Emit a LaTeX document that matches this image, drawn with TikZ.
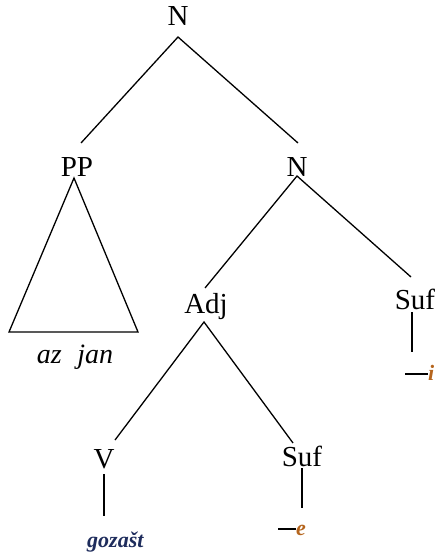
\documentclass[tikz,border=0pt]{standalone}
\usepackage{fontspec}
\setmainfont{Liberation Serif}
\begin{document}
\begin{tikzpicture}[x=1pt,y=-1pt,
  lab/.style={font=\fontsize{29}{32}\selectfont, inner sep=0pt, anchor=base},
  edge/.style={line width=1.3pt},
  morph/.style={font=\fontsize{22}{24}\selectfont\bfseries\itshape, text=gozcol, inner sep=0pt, anchor=base west},
]
\definecolor{gozcol}{HTML}{1E2C5C}
\definecolor{suffcol}{HTML}{B5651D}
\useasboundingbox (0,0) rectangle (434,556);
\clip (0,0) rectangle (434,556);
% nodes
\node[lab] (n1) at (178,26) {N};
\node[lab] (pp) at (77,176) {PP};
\node[lab] (n2) at (297,176) {N};
\node[lab] (adj) at (206,313) {Adj};
\node[lab] (suf1) at (415,309) {Suf};
\node[lab] (v) at (104,468) {V};
\node[lab] (suf2) at (302,466) {Suf};
\node[font=\fontsize{28}{30}\selectfont\itshape, inner sep=0pt, anchor=base] (azjan) at (75,363) {az\hspace{0.55em}jan};
% attachment coordinates
\coordinate (n1b) at (178,37);
\coordinate (ppt) at (81,143);
\coordinate (n2t) at (298,143);
\coordinate (n2b) at (297,176);
\coordinate (adjt) at (205,288);
\coordinate (suf1t) at (411,277);
\coordinate (adjb) at (204,322);
\coordinate (vt) at (115,440);
\coordinate (suf2t) at (293,443);
\coordinate (tria) at (74,178);
\coordinate (tril) at (9,332);
\coordinate (trir) at (138,332);
\coordinate (vb1) at (104,474);
\coordinate (vb2) at (104,516);
\coordinate (s2b1) at (302,468);
\coordinate (s2b2) at (302,508);
\coordinate (s1b1) at (412,312);
\coordinate (s1b2) at (412,352);
% edges
\draw[edge] (ppt) -- (n1b) -- (n2t);
\draw[edge] (adjt) -- (n2b) -- (suf1t);
\draw[edge] (vt) -- (adjb) -- (suf2t);
\draw[edge] (tria) -- (tril) -- (trir) -- cycle;
\draw[edge] (vb1) -- (vb2);
\draw[edge] (s2b1) -- (s2b2);
\draw[edge] (s1b1) -- (s1b2);
% leaves
\node[morph] (goz) at (87,547) {gozašt};
\coordinate (d2a) at (278,529);
\coordinate (d2b) at (296,529);
\draw[line width=1.8pt] (d2a) -- (d2b);
\node[morph, text=suffcol] (e) at (296,535) {e};
\coordinate (d1a) at (405,374);
\coordinate (d1b) at (428,374);
\draw[line width=1.8pt] (d1a) -- (d1b);
\node[morph, text=suffcol] (i) at (428,380) {i};
\end{tikzpicture}
\end{document}
